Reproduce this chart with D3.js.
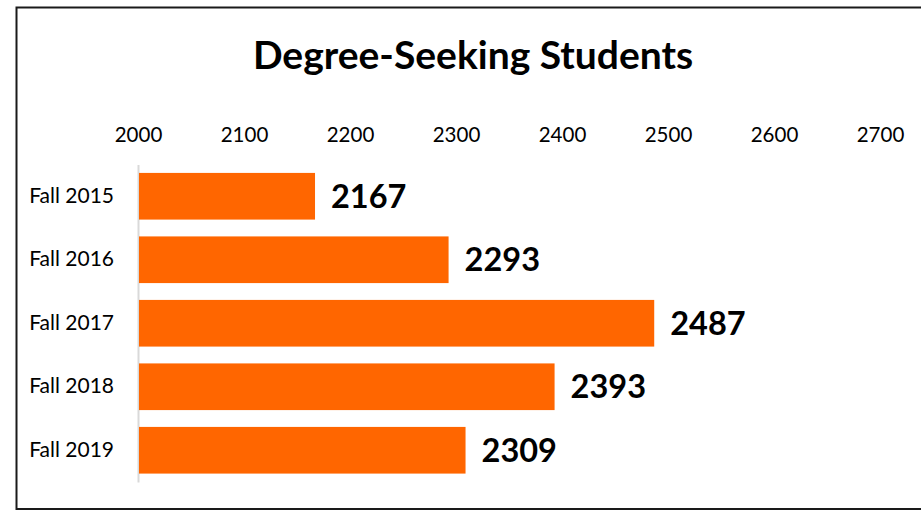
<!DOCTYPE html>
<html>
<head>
<meta charset="utf-8">
<script src="https://cdn.jsdelivr.net/npm/d3@7"></script>
<style>
  html, body { margin: 0; padding: 0; background: #fff; }
  svg { display: block; font-family: Lato, "Open Sans", sans-serif; }
</style>
</head>
<body>
<div id="chart"></div>
<script>
const categories = ['Fall 2015', 'Fall 2016', 'Fall 2017', 'Fall 2018', 'Fall 2019']
const students = [2167, 2293, 2487, 2393, 2309]
const tickValues = [2000, 2100, 2200, 2300, 2400, 2500, 2600, 2700]
const title = 'Degree-Seeking Students'

const width = 921,
      height = 511

const svg = d3.select('#chart').append('svg')
  .attr('width', width)
  .attr('height', height)

// frame (right side runs off the picture)
svg.append('rect')
  .attr('x', 16.5).attr('y', 7.5)
  .attr('width', 940).attr('height', 501.5)
  .attr('fill', 'none')
  .attr('stroke', '#1a1a1a')
  .attr('stroke-width', 2)

svg.append('text')
  .attr('x', 473).attr('y', 69)
  .attr('text-anchor', 'middle')
  .attr('font-size', 39)
  .attr('font-weight', 'bold')
  .attr('fill', '#000')
  .text(title)

const x = d3.scaleLinear()
  .domain([2000, 2700])
  .range([138, 880])

const y = d3.scaleBand()
  .domain(categories)
  .range([164.5, 482])
  .paddingInner(0.265)
  .paddingOuter(0.1325)

// top axis labels, no line or ticks
const xAxis = svg.append('g')
  .attr('transform', 'translate(0,148)')
  .call(d3.axisTop(x).tickValues(tickValues).tickSize(0).tickPadding(0).tickFormat(d3.format('d')))
xAxis.select('.domain').remove()
xAxis.selectAll('text')
  .attr('font-family', 'Lato, sans-serif')
  .attr('font-size', 20.5)
  .attr('fill', '#000')
  .attr('dy', '-0.3em')

// left category axis
const yAxis = svg.append('g')
  .attr('transform', 'translate(' + x(2000) + ',0)')
  .call(d3.axisLeft(y).tickSize(0).tickPadding(24))
yAxis.select('.domain')
  .attr('stroke', '#d9d9d9')
  .attr('stroke-width', 2)
yAxis.selectAll('text')
  .attr('font-family', 'Lato, sans-serif')
  .attr('font-size', 21)
  .attr('fill', '#000')

svg.append('g').selectAll('rect')
  .data(students)
  .join('rect')
    .attr('x', x(2000) + 1)
    .attr('y', (d, i) => y(categories[i]))
    .attr('width', d => x(d) - x(2000) - 1)
    .attr('height', y.bandwidth())
    .attr('fill', '#ff6600')

svg.append('g').selectAll('text')
  .data(students)
  .join('text')
    .attr('x', d => x(d) + 16)
    .attr('y', (d, i) => y(categories[i]) + y.bandwidth() / 2)
    .attr('dy', '0.36em')
    .attr('font-size', 32.5)
    .attr('font-weight', 'bold')
    .attr('fill', '#000')
    .text(d => d)
</script>
</body>
</html>
